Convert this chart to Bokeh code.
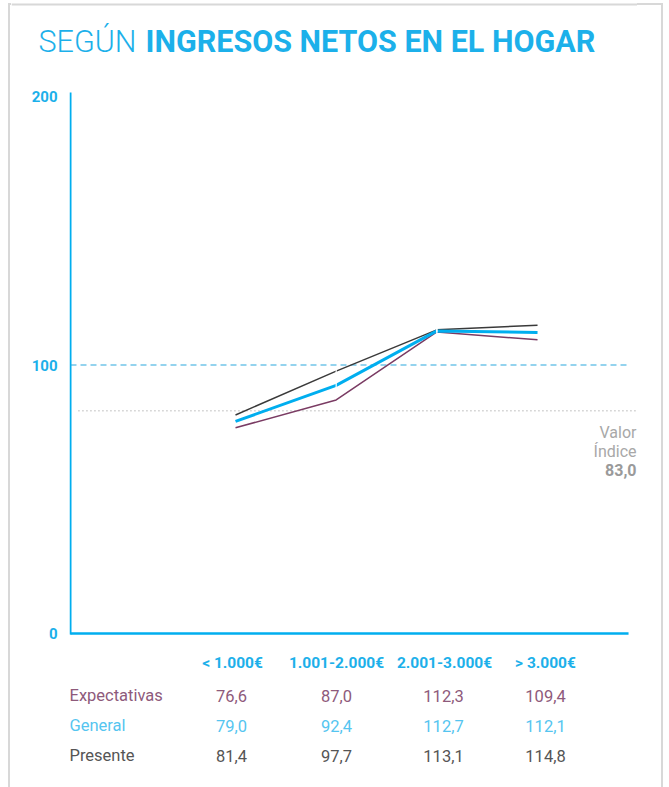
from bokeh.plotting import figure
from bokeh.layouts import column, row
from bokeh.models import Range1d, FixedTicker, Label, Div
from bokeh.core.properties import value
from bokeh.embed import file_html
from bokeh.resources import INLINE

# Income brackets and index values per series
categories = ["< 1.000€", "1.001-2.000€", "2.001-3.000€", "> 3.000€"]
expectativas = [76.6, 87.0, 112.3, 109.4]
general = [79.0, 92.4, 112.7, 112.1]
presente = [81.4, 97.7, 113.1, 114.8]
series_names = ["Expectativas", "General", "Presente"]
valor_indice = 83.0
referencia = 100
y_ticks = [0, 100, 200]

CYAN = "#00AEEF"
CYAN_TXT = "#1CB0EA"
PURPLE = "#7A3B63"
DARK = "#3A3A3A"
CARD = "#D8D8D8"
FONT = value("Roboto")

W, H = 669, 787
TITLE_H, TABLE_H = 80, 142
CHART_H = H - TITLE_H - TABLE_H
LEFT_W, RIGHT_W = 11, 32
MID_W = W - LEFT_W - RIGHT_W

# horizontal extents of the chart (in category units)
X_START, X_END = -1.649, 3.993
X_AXIS, X_BASE_END, X_DOT_START = -1.639, 3.904, -1.560
Y_START, Y_END = -4.47, 205.96
Y_AXIS_TOP = 201.49


def fmt(v):
    return f"{v:.1f}".replace(".", ",")


def panel(top, height):
    """A plain figure whose frame fills its canvas, in page pixel units."""
    f = figure(width=MID_W, height=height, output_backend="svg",
               toolbar_location=None, x_axis_type=None, y_axis_type=None,
               x_range=Range1d(LEFT_W, LEFT_W + MID_W),
               y_range=Range1d(top + height, top),
               min_border=0, min_border_left=0, min_border_right=0,
               min_border_top=0, min_border_bottom=0,
               outline_line_color=None, background_fill_color="white",
               border_fill_color="white")
    f.frame_align = False
    f.xgrid.visible = False
    f.ygrid.visible = False
    return f


def edge_strip(width, line_at, top_from, top_to):
    """A blank strip carrying one vertical edge and a piece of the top edge."""
    bar = f"linear-gradient({CARD}, {CARD})"
    bg = (f"{bar} {line_at - 1}px 3px / 2px 100% no-repeat, "
          f"{bar} {top_from}px 3px / {top_to - top_from}px 2px no-repeat, "
          "#ffffff")
    return Div(text="", width=width, height=H,
               styles={"background": bg, "margin": "0", "padding": "0"})


# ---- card edges at both sides
left = edge_strip(LEFT_W, 9, 8, LEFT_W)
right = edge_strip(RIGHT_W, 25, 0, 26)

# ---- title with the card's top edge
title = panel(0, TITLE_H)
title.line(x=[LEFT_W, LEFT_W + MID_W], y=[4, 4], line_color=CARD,
           line_width=2)
title.text(x=[38], y=[41], text=["SEGÚN"], text_color=CYAN_TXT,
           text_font=value("Roboto Light"), text_font_size="30.5px",
           text_baseline="middle")
title.text(x=[145], y=[41], text=["INGRESOS NETOS EN EL HOGAR"],
           text_color=CYAN_TXT, text_font=FONT, text_font_style="bold",
           text_font_size="30.5px", text_baseline="middle")

# ---- chart
x = list(range(len(categories)))
p = figure(width=MID_W, height=CHART_H, output_backend="svg",
           toolbar_location=None,
           x_range=Range1d(X_START, X_END), y_range=Range1d(Y_START, Y_END),
           min_border_left=58, min_border_right=0, min_border_top=0,
           min_border_bottom=0, outline_line_color=None,
           background_fill_color="white", border_fill_color="white")
p.frame_align = False
p.xgrid.visible = False
p.ygrid.visible = False
p.xaxis.visible = False

yax = p.yaxis[0]
yax.ticker = FixedTicker(ticks=y_ticks)
yax.axis_line_color = None
yax.major_tick_line_color = None
yax.minor_tick_line_color = None
yax.major_label_standoff = 6
yax.major_label_text_color = CYAN_TXT
yax.major_label_text_font = "Roboto"
yax.major_label_text_font_style = "bold"
yax.major_label_text_font_size = "15px"

# axis lines
p.line(x=[X_AXIS, X_AXIS], y=[-0.4, Y_AXIS_TOP], line_color=CYAN,
       line_width=2)
p.line(x=[X_AXIS, X_BASE_END], y=[0, 0], line_color=CYAN, line_width=2.5)

# reference lines: 100 and the index value
p.line(x=[X_AXIS, X_BASE_END], y=[referencia, referencia],
       line_color="#2AA7DD", line_width=1.2, line_dash="6 4")
p.line(x=[X_DOT_START, X_END], y=[valor_indice, valor_indice],
       line_color="#B5B5B5", line_width=1.5, line_dash="1 3")

# series
p.line(x=x, y=presente, line_color=DARK, line_width=1.5)
p.line(x=x, y=expectativas, line_color=PURPLE, line_width=1.5)
p.line(x=x, y=general, line_color=CYAN, line_width=3)

# small white cuts at the inner vertices
for s in (presente, general):
    p.scatter(x=x[1:3], y=s[1:3], marker="dash", angle=1.5708, size=5,
              line_color="white", line_width=1.2)

# index note under the dotted line
for txt, off, style, color in (("Valor", -22, "normal", "#A8A8A8"),
                               ("Índice", -41, "normal", "#A8A8A8"),
                               (fmt(valor_indice), -59, "bold", "#9A9A9A")):
    p.add_layout(Label(x=X_END, y=valor_indice, x_offset=-1, y_offset=off,
                       text=txt, text_color=color, text_font="Roboto",
                       text_font_size="16px", text_font_style=style,
                       text_align="right", text_baseline="middle"))

# ---- category labels and value table
table = panel(H - TABLE_H, TABLE_H)

cat_x = [232, 336, 444, 545]
col_x = [231, 336, 443, 545]
table.text(x=cat_x, y=[662] * 4, text=categories,
           text_color=CYAN_TXT, text_font=FONT, text_font_style="bold",
           text_font_size="15.5px", text_align="center",
           text_baseline="middle")

row_colors = ["#8E5A7B", "#55C5F0", "#555555"]
row_y = [695, 725, 755]
for name, vals, color, sy in zip(series_names,
                                 (expectativas, general, presente),
                                 row_colors, row_y):
    table.text(x=[69], y=[sy], text=[name], text_color=color, text_font=FONT,
               text_font_size="16.5px", text_baseline="middle")
    table.text(x=col_x, y=[sy] * 4, text=[fmt(v) for v in vals],
               text_color=color, text_font=FONT, text_font_size="16.5px",
               text_align="center", text_baseline="middle")

layout = row(left, column(title, p, table), right)
open("out.html", "w").write(file_html(layout, INLINE))
